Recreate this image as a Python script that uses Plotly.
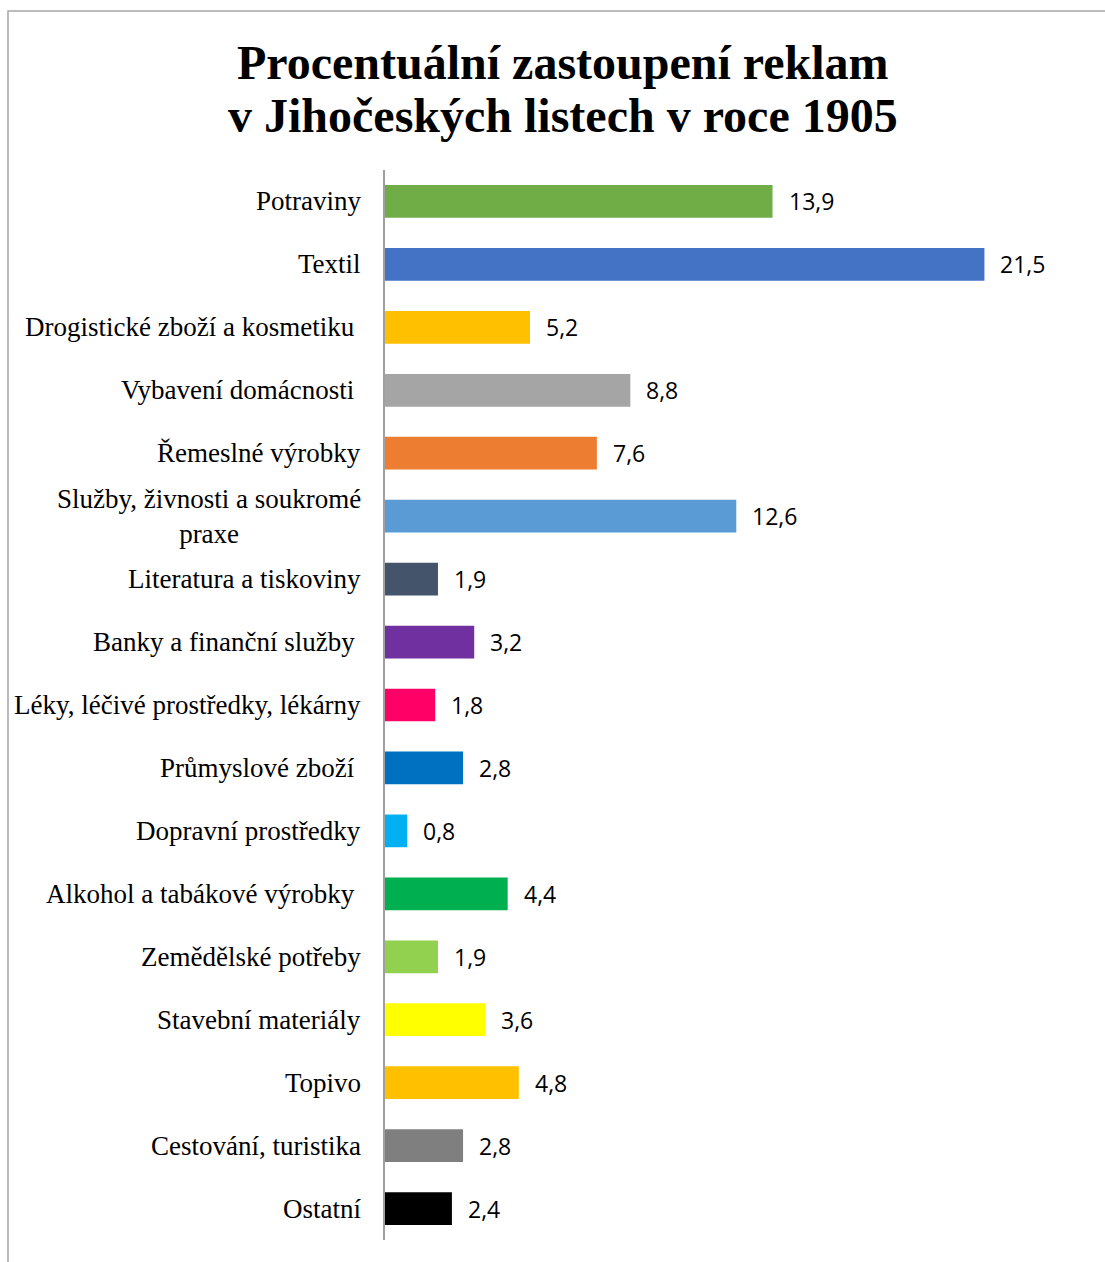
import plotly.graph_objects as go

# Advertising categories (top to bottom) and their shares in percent
categories = [
    "Potraviny",
    "Textil",
    "Drogistické zboží a kosmetiku\u00a0",
    "Vybavení domácnosti\u00a0",
    "Řemeslné výrobky",
    "Služby, živnosti a soukromé<br>praxe",
    "Literatura a tiskoviny",
    "Banky a finanční služby\u00a0",
    "Léky, léčivé prostředky, lékárny",
    "Průmyslové zboží\u00a0",
    "Dopravní prostředky",
    "Alkohol a tabákové výrobky\u00a0",
    "Zemědělské potřeby",
    "Stavební materiály",
    "Topivo",
    "Cestování, turistika",
    "Ostatní",
]
shares = [13.9, 21.5, 5.2, 8.8, 7.6, 12.6, 1.9, 3.2, 1.8, 2.8, 0.8, 4.4, 1.9, 3.6, 4.8, 2.8, 2.4]
bar_colors = [
    "#70AD47", "#4472C4", "#FFC000", "#A5A5A5", "#ED7D31", "#5B9BD5",
    "#44546A", "#7030A0", "#FF0066", "#0070C0", "#00B0F0", "#00B050",
    "#92D050", "#FFFF00", "#FFC000", "#7F7F7F", "#000000",
]
title_lines = ["Procentuální zastoupení reklam", "v Jihočeských listech v roce 1905"]

ids = list(range(len(categories)))

fig = go.Figure(
    go.Bar(
        x=shares,
        y=ids,
        orientation="h",
        marker=dict(color=bar_colors, line=dict(width=0)),
        hoverinfo="x",
    )
)

annotations = []
# category labels, right aligned left of the axis
for i, name in zip(ids, categories):
    annotations.append(dict(
        x=0, xref="paper", y=i, yref="y", text=name, showarrow=False,
        xanchor="right", yanchor="middle", align="center", xshift=-22,
        font=dict(family="Liberation Serif", size=27, color="#000000"),
    ))
# value labels beyond the end of each bar
for i, v in zip(ids, shares):
    annotations.append(dict(
        x=v, xref="x", y=i, yref="y", text=f"{v:.1f}".replace(".", ","),
        showarrow=False, xanchor="left", yanchor="middle", xshift=14,
        font=dict(family="Open Sans", size=23, color="#000000"),
    ))
# two-line chart heading
for ypos, line in zip([1.1009, 1.0505], title_lines):
    annotations.append(dict(
        x=0.2547, xref="paper", y=ypos, yref="paper", text=f"<b>{line}</b>",
        showarrow=False, xanchor="center", yanchor="middle",
        font=dict(family="Liberation Serif", size=48, color="#000000"),
    ))

fig.update_layout(
    width=1105,
    height=1262,
    margin=dict(l=385, r=23, t=170, b=22),
    paper_bgcolor="#FFFFFF",
    plot_bgcolor="#FFFFFF",
    showlegend=False,
    bargap=0.48,
    annotations=annotations,
    shapes=[dict(
        type="rect", xref="paper", yref="paper",
        x0=-0.5409, x1=1.05, y0=-0.05, y1=1.1486,
        line=dict(color="#A6A6A6", width=1.5), fillcolor="rgba(0,0,0,0)",
        layer="below",
    )],
)
fig.update_xaxes(range=[0, 25], visible=False, fixedrange=True)
fig.update_yaxes(
    range=[len(categories) - 0.5, -0.5],
    showticklabels=False, ticks="", showgrid=False, zeroline=False,
    showline=True, linecolor="#A0A0A0", linewidth=1.5,
)

fig.write_html("out.html")
